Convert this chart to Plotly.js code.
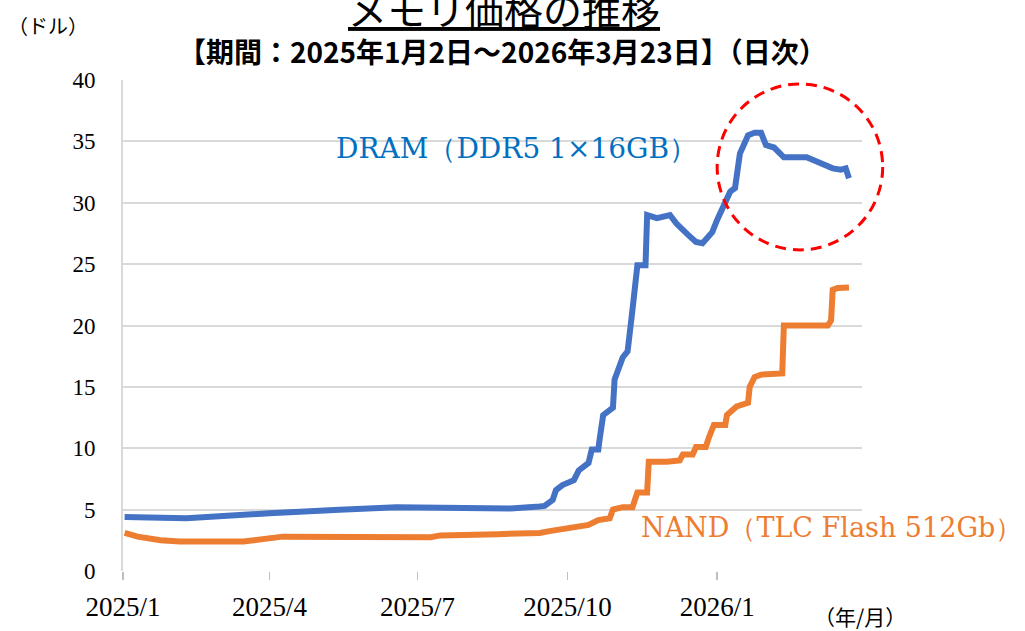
<!DOCTYPE html>
<html><head><meta charset="utf-8">
<script src="https://cdn.plot.ly/plotly-3.0.1.min.js"></script>
<style>body{margin:0;background:#fff}#chart{width:1025px;height:631px}</style>
</head><body><div id="chart"></div>
<script>
const dramDates = ["2025-01-02","2025-02-09","2025-04-01","2025-04-24","2025-05-14","2025-06-18","2025-07-29","2025-08-27","2025-09-14","2025-09-17","2025-09-22","2025-09-24","2025-09-28","2025-10-03","2025-10-05","2025-10-08","2025-10-14","2025-10-16","2025-10-20","2025-10-21","2025-10-23","2025-10-27","2025-10-29","2025-10-30","2025-11-04","2025-11-07","2025-11-09","2025-11-10","2025-11-13","2025-11-18","2025-11-19","2025-11-25","2025-12-03","2025-12-07","2025-12-14","2025-12-19","2025-12-23","2025-12-29","2026-01-01","2026-01-05","2026-01-09","2026-01-12","2026-01-15","2026-01-20","2026-01-24","2026-01-28","2026-01-31","2026-02-05","2026-02-11","2026-02-25","2026-03-04","2026-03-07","2026-03-13","2026-03-18","2026-03-21","2026-03-23"];
const dramValues = [4.4,4.3,4.7,4.9,5.0,5.2,5.2,5.1,5.25,5.3,5.8,6.6,7.0,7.25,7.4,8.2,8.8,9.9,9.9,10.9,12.7,13.1,13.3,15.6,17.4,17.9,20.7,21.3,24.9,24.9,29.0,28.75,29.0,28.3,27.4,26.8,26.7,27.6,28.6,29.7,30.9,31.2,34.0,35.5,35.7,35.7,34.7,34.5,33.7,33.7,33.3,33.1,32.8,32.7,32.8,32.0];

const nandDates = ["2025-01-02","2025-01-10","2025-01-24","2025-02-05","2025-03-16","2025-04-01","2025-04-09","2025-07-09","2025-07-15","2025-08-19","2025-09-01","2025-09-14","2025-09-20","2025-10-05","2025-10-14","2025-10-20","2025-10-27","2025-10-29","2025-11-04","2025-11-10","2025-11-13","2025-11-19","2025-11-20","2025-12-01","2025-12-09","2025-12-11","2025-12-17","2025-12-19","2025-12-25","2025-12-27","2025-12-30","2026-01-06","2026-01-07","2026-01-13","2026-01-20","2026-01-21","2026-01-24","2026-01-28","2026-02-03","2026-02-05","2026-02-10","2026-02-11","2026-03-10","2026-03-12","2026-03-13","2026-03-16","2026-03-23"];
const nandValues = [3.1,2.8,2.5,2.4,2.4,2.7,2.8,2.75,2.9,3.0,3.05,3.1,3.25,3.5,3.75,4.15,4.3,5.0,5.2,5.2,6.4,6.4,8.9,8.9,9.0,9.5,9.5,10.1,10.1,10.9,11.9,11.9,12.7,13.4,13.7,15.0,15.8,16.0,16.0,16.1,16.1,20.0,20.0,20.4,22.9,23.05,23.1];

const xTickVals = ["2025-01-01","2025-04-01","2025-07-01","2025-10-01","2026-01-01"];
const xTickText = ["2025/1","2025/4","2025/7","2025/10","2026/1"];
const yTickVals = [0,5,10,15,20,25,30,35,40];

const serif = "Liberation Serif, DejaVu Serif, serif";
const wideSerif = "DejaVu Serif, Liberation Serif, serif";
const jp = "Noto Sans CJK JP, sans-serif";

const traces = [
  {x: dramDates, y: dramValues, type: "scatter", mode: "lines", name: "DRAM",
   line: {color: "#4472C4", width: 6}, hoverinfo: "skip"},
  {x: nandDates, y: nandValues, type: "scatter", mode: "lines", name: "NAND",
   line: {color: "#ED7D31", width: 6}, hoverinfo: "skip"}
];

const layout = {
  width: 1025, height: 631,
  margin: {l: 123, r: 163, t: 80, b: 60},
  paper_bgcolor: "#fff", plot_bgcolor: "#fff",
  showlegend: false,
  xaxis: {
    type: "date", range: ["2025-01-01", "2026-03-31"],
    tickvals: xTickVals, ticktext: xTickText,
    ticks: "outside", ticklen: 8, tickcolor: "#bfbfbf", tickwidth: 1.5,
    showgrid: false, zeroline: false, showline: false,
    tickfont: {family: serif, size: 27, color: "#000"}, ticklabelstandoff: 4
  },
  yaxis: {
    range: [0, 40], tickvals: yTickVals,
    showgrid: true, gridcolor: "#d9d9d9", gridwidth: 2,
    zeroline: false, showline: true, linecolor: "#d9d9d9", linewidth: 2,
    ticks: "", tickfont: {family: serif, size: 23, color: "#000"}, ticklabelstandoff: 21
  },
  annotations: [
    {text: "<u>メモリ価格の推移</u>", xref: "paper", yref: "paper", x: 0.516, y: 1.0, yshift: 72,
     showarrow: false, yanchor: "middle", font: {family: jp, size: 39, color: "#000"}},
    {text: "<b>【期間：2025年1月2日～2026年3月23日】（日次）</b>", xref: "paper", yref: "paper", x: 0.514, y: 1.0, yshift: 29,
     showarrow: false, yanchor: "middle", font: {family: jp, size: 28, color: "#000"}},
    {text: "（ドル）", xref: "paper", yref: "paper", x: 0, xshift: -117, y: 1.0, yshift: 55,
     showarrow: false, xanchor: "left", yanchor: "middle", font: {family: jp, size: 20, color: "#000"}},
    {text: "（年/月）", xref: "paper", yref: "paper", x: 1.0, xshift: -2, y: 0, yshift: -45,
     showarrow: false, xanchor: "center", yanchor: "middle", font: {family: jp, size: 21, color: "#000"}},
    {text: "DRAM（DDR5 1×16GB）", xref: "paper", yref: "paper", x: 0, xshift: 211, y: 1.0, yshift: -68,
     showarrow: false, xanchor: "left", yanchor: "middle", font: {family: wideSerif, size: 28, color: "#0070C0"}},
    {text: "NAND（TLC Flash 512Gb）", xref: "paper", yref: "paper", x: 0, xshift: 516, y: 0, yshift: 44,
     showarrow: false, xanchor: "left", yanchor: "middle", font: {family: wideSerif, size: 27, color: "#ED7D31"}}
  ],
  shapes: [
    {type: "circle", xref: "paper", yref: "paper", x0: 0.804, x1: 1.028, y0: 0.654, y1: 0.992,
     line: {color: "#FF0000", width: 3, dash: "11px,7px"}}
  ]
};

Plotly.newPlot("chart", traces, layout, {displayModeBar: false, staticPlot: true});
</script></body></html>
